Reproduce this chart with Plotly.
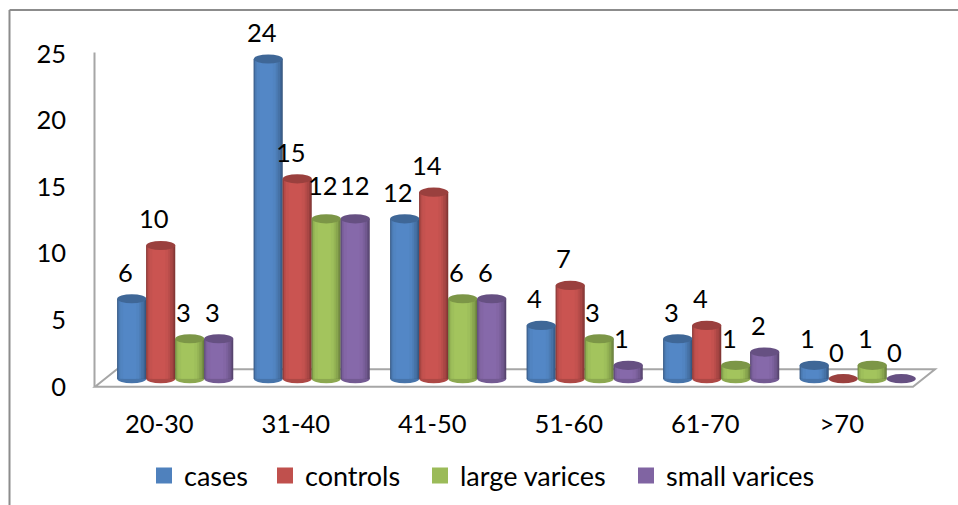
import plotly.graph_objects as go

categories = ["20-30", "31-40", "41-50", "51-60", "61-70", ">70"]
cases = [6, 24, 12, 4, 3, 1]
controls = [10, 15, 14, 7, 4, 0]
large_varices = [3, 12, 6, 3, 1, 1]
small_varices = [3, 12, 6, 1, 2, 0]
series_names = ["cases", "controls", "large varices", "small varices"]
series_values = [cases, controls, large_varices, small_varices]
series_colors = ["#4f81bd", "#c0504d", "#9bbb59", "#8064a2"]
y_ticks = [0, 5, 10, 15, 20, 25]

# layout in pixels
W, H = 958, 505
PXY = 13.35
L, R = 107, 926
B = 379 + PXY
T = B - 26.5 * PXY
PXX = (R - L) / 6
FONT = "Lato, Carlito, sans-serif"
BAR_W = 29 / PXX
# nested cylinder shading: inset from left px, inset from right px, brightness
LAYERS = [(0, 0, 0.66), (0, 1, 0.76), (1, 2.5, 0.88), (1.5, 5, 0.96), (3, 7, 1.02), (6, 10, 1.05)]
LEGEND_LEFT = [144, 265, 420, 626]
LEGEND_Y = 476
# (series index, category index): extra label shift in px (x, y)
LABEL_NUDGE = {(2, 1): (3.5, 7), (3, 1): (6.5, 7)}


def shade(hex_col, f):
    r, g, b = (int(hex_col[i:i + 2], 16) for i in (1, 3, 5))
    c = [min(255, round(v * f)) for v in (r, g, b)]
    return "rgb(%d,%d,%d)" % tuple(c)


def px(x):
    return (x - L) / (R - L)


def py(y):
    return (B - y) / (B - T)


fig = go.Figure()
xs = list(range(len(categories)))
shapes = []
annotations = []
legends = {}

GRAY = "#a6a6a6"
# chart border (runs off the right and bottom of the picture)
shapes.append(dict(type="line", xref="paper", yref="paper", x0=px(9.5), y0=py(9.5), x1=px(960), y1=py(9.5),
                   line=dict(color="#8c8c8c", width=2), layer="below"))
shapes.append(dict(type="line", xref="paper", yref="paper", x0=px(9.5), y0=py(9.5), x1=px(9.5), y1=py(510),
                   line=dict(color="#8c8c8c", width=2), layer="below"))
# wall + floor
shapes.append(dict(type="line", xref="paper", yref="paper", x0=px(94.5), y0=py(52), x1=px(94.5), y1=py(387),
                   line=dict(color=GRAY, width=2), layer="below"))
shapes.append(dict(type="path", xref="paper", yref="paper",
                   path="M %f %f L %f %f L %f %f L %f %f Z" % (px(95), py(387), px(117), py(369.5), px(935), py(369.5), px(913), py(387)),
                   line=dict(color=GRAY, width=2), layer="below"))

for si, (name, vals, col) in enumerate(zip(series_names, series_values, series_colors)):
    off = -2 * BAR_W + si * BAR_W
    for k, (il, ir, f) in enumerate(LAYERS):
        fig.add_trace(go.Bar(x=xs, y=vals, name=name, width=BAR_W - (il + ir) / PXX, offset=off + il / PXX,
                             showlegend=False, marker=dict(color=shade(col, f), line=dict(width=0)),
                             hoverinfo="x+y+name" if k == 0 else "skip"))
    legend_id = "legend" if si == 0 else "legend%d" % (si + 1)
    fig.add_trace(go.Scatter(x=[None], y=[None], mode="markers", name=name, legend=legend_id,
                             marker=dict(symbol="square", size=16, color=col)))
    legends[legend_id] = dict(x=LEGEND_LEFT[si] / W, xref="container", xanchor="left",
                              y=1 - LEGEND_Y / H, yref="container", yanchor="middle",
                              orientation="h", font=dict(family=FONT, size=27), itemsizing="trace",
                              bgcolor="rgba(0,0,0,0)")
    for x, v in zip(xs, vals):
        x0, x1 = x + off, x + off + BAR_W
        e = 4.6 / PXY
        if v > 0:
            shapes.append(dict(type="circle", xref="x", yref="y", x0=x0, x1=x1, y0=-e, y1=e,
                               fillcolor=shade(col, 0.9), line=dict(width=0), layer="below"))
        shapes.append(dict(type="circle", xref="x", yref="y", x0=x0, x1=x1, y0=v - e, y1=v + e,
                           fillcolor=shade(col, 0.80), line=dict(width=0), layer="above"))
        nx, ny = LABEL_NUDGE.get((si, x), (0, 0))
        annotations.append(dict(x=x + off + BAR_W / 2, y=v, xref="x", yref="y", text=str(v), showarrow=False,
                                xshift=-6.5 + nx, yshift=27 + ny, font=dict(family=FONT, size=25.5, color="black")))

fig.update_layout(
    width=W, height=H, autosize=False,
    margin=dict(l=L, r=W - R, t=T, b=H - B, pad=0),
    paper_bgcolor="white", plot_bgcolor="rgba(0,0,0,0)",
    barmode="overlay",
    font=dict(family=FONT, size=25.5, color="black"),
    xaxis=dict(range=[-0.5, 5.5], tickmode="array", tickvals=xs, ticktext=categories, showgrid=False, zeroline=False,
               showline=False, ticks="", ticklabelshift=-16, ticklabelstandoff=14, automargin=False),
    yaxis=dict(range=[-1.0, 25.5], tickmode="array", tickvals=y_ticks, showgrid=False, zeroline=False,
               showline=False, ticks="", ticklabelshift=8, ticklabelstandoff=40, automargin=False,
               tickfont=dict(family=FONT, size=25.5, color="black")),
    shapes=shapes, annotations=annotations, showlegend=True,
    **legends,
)

fig.write_html("out.html", config={"displayModeBar": False}, post_script="document.body.style.margin='0';")
